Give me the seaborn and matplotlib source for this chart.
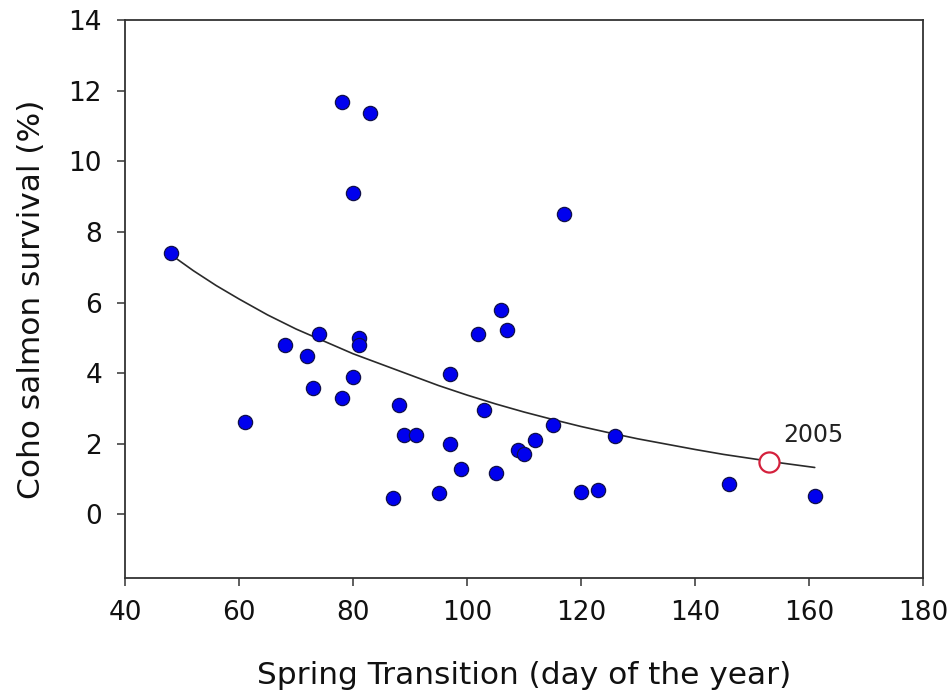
import matplotlib
matplotlib.use("Agg")
import matplotlib.pyplot as plt
import seaborn as sns
import pandas as pd

# Observed points: spring transition day vs coho survival (%)
spring_day = [48, 61, 68, 72, 73, 74, 78, 78, 80, 80, 81, 81, 83, 87, 88, 89, 91,
              95, 97, 97, 99, 102, 103, 105, 106, 107, 109, 110, 112, 115, 117,
              120, 123, 126, 146, 161]
survival = [7.39, 2.63, 4.80, 4.49, 3.58, 5.10, 11.69, 3.30, 9.10, 3.89, 4.99, 4.80,
            11.37, 0.46, 3.11, 2.26, 2.26, 0.60, 3.98, 2.00, 1.30, 5.10, 2.97, 1.18,
            5.79, 5.21, 1.82, 1.72, 2.10, 2.54, 8.50, 0.64, 0.69, 2.21, 0.87, 0.52]

# Highlighted year
hl_day = [153]
hl_survival = [1.48]
hl_label = "2005"

# Trend curve
curve_day = [48, 52, 56, 60, 65, 70, 75, 80, 85, 90, 95, 100, 105, 110, 115, 120,
             125, 130, 135, 140, 145, 150, 155, 161]
curve_survival = [7.36, 6.90, 6.48, 6.10, 5.65, 5.25, 4.90, 4.55, 4.25, 3.95, 3.65,
                  3.38, 3.13, 2.90, 2.69, 2.49, 2.31, 2.14, 1.99, 1.84, 1.70, 1.58,
                  1.46, 1.33]

x_ticks = [40, 60, 80, 100, 120, 140, 160, 180]
y_ticks = [0, 2, 4, 6, 8, 10, 12, 14]

sns.set_theme(style="white")
plt.rcParams['font.family'] = ['DejaVu Sans']

fig = plt.figure(figsize=(9.5, 6.95), dpi=100)
ax = fig.add_axes([0.1316, 0.1683, 0.8400, 0.8030])

pts = pd.DataFrame({"day": spring_day, "surv": survival})
curve = pd.DataFrame({"day": curve_day, "surv": curve_survival})
hl = pd.DataFrame({"day": hl_day, "surv": hl_survival})

sns.lineplot(data=curve, x="day", y="surv", ax=ax, color="#2a2a2a", linewidth=1.2,
             zorder=2, sort=True, estimator=None)
sns.scatterplot(data=pts, x="day", y="surv", ax=ax, s=105, color="#0000ee",
                edgecolor="#10104a", linewidth=0.9, zorder=3)
sns.scatterplot(data=hl, x="day", y="surv", ax=ax, s=210, facecolor="white",
                edgecolor="#d4203c", linewidth=1.6, zorder=4)
ax.text(hl_day[0] + 2.5, hl_survival[0] + 0.78, hl_label, fontsize=17,
        color="#222222", ha="left", va="center")

ax.set_xlim(40, 180)
ax.set_ylim(-1.8, 14)
ax.set_xticks(x_ticks)
ax.set_yticks(y_ticks)
ax.tick_params(axis="both", which="major", direction="out", length=6, width=1.1,
               color="#333333", labelsize=19, labelcolor="#111111",
               bottom=True, left=True)
ax.tick_params(axis="x", pad=10)
ax.tick_params(axis="y", pad=10.5)
ax.set_xlabel("Spring Transition (day of the year)", fontsize=22.5, color="#111111",
              labelpad=25)
ax.set_ylabel("Coho salmon survival (%)", fontsize=22.5, color="#111111", labelpad=16)
for sp in ax.spines.values():
    sp.set_visible(True)
    sp.set_color("#333333")
    sp.set_linewidth(1.3)

fig.savefig("out.png", dpi=100, facecolor="white")
